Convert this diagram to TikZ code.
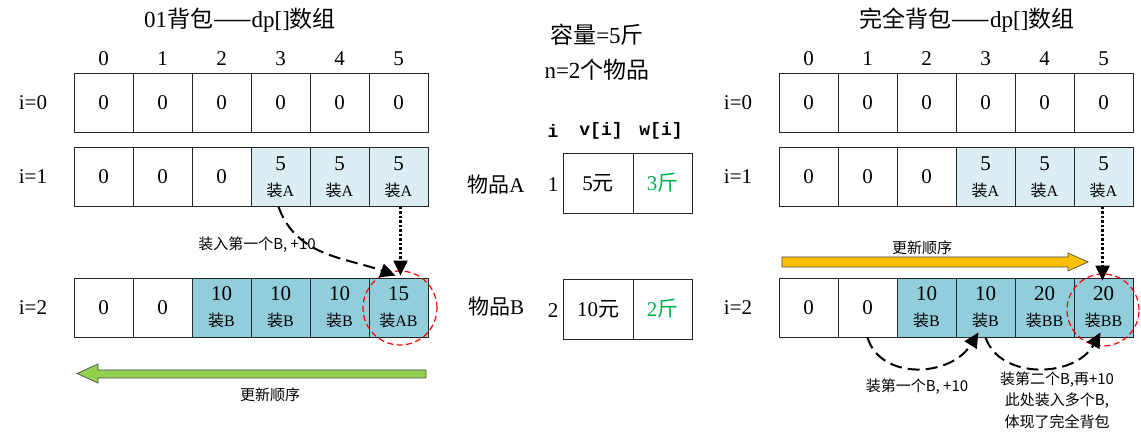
\documentclass[tikz,border=0pt]{standalone}
\usepackage{fontspec}
\setmainfont{Liberation Serif}
\newfontfamily\cjk{Noto Sans CJK SC}
\newfontfamily\monof{Liberation Mono}
\usetikzlibrary{arrows.meta}
\definecolor{lightcell}{HTML}{DAEEF3}
\definecolor{darkcell}{HTML}{92CDDC}
\definecolor{arrgreen}{HTML}{92D050}
\definecolor{arryellow}{HTML}{FFC000}
\definecolor{txtgreen}{HTML}{00B050}
\newcommand\tcell[2]{#1\\{\fontsize{16}{16}\selectfont{\cjk 装}#2}}
\tikzset{
  cell/.style={draw=black!85, line width=0.8pt, minimum width=59pt, minimum height=59pt,
    inner sep=0pt, align=center, font=\fontsize{21}{26}\selectfont},
  acell/.style={cell, fill=lightcell},
  bcell/.style={cell, fill=darkcell},
  lbl/.style={font=\fontsize{21}{21}\selectfont, inner sep=0pt},
  title/.style={font=\fontsize{23}{23}\selectfont, inner sep=0pt},
  note/.style={font=\fontsize{15}{21.5}\selectfont\cjk, inner sep=0pt, align=center},
  dasharr/.style={line width=2pt, dash pattern=on 12pt off 6pt, -{Triangle[length=15pt,width=14pt]}},
  dotarr/.style={line width=2.2pt, dash pattern=on 2.5pt off 2pt, -{Triangle[length=15pt,width=14pt]}},
  ring/.style={draw=red, line width=1.2pt, dash pattern=on 6pt off 3.5pt},
  fatarrow/.style={draw=black!70, line width=0.7pt},
}
\begin{document}
\begin{tikzpicture}[x=1pt,y=-1pt]
\useasboundingbox (0,0) rectangle (1141,435);

% ---------- titles ----------
\node[title] (tl) at (240,20) {01{\cjk 背包——}dp[]{\cjk 数组}};
\node[title] (tr) at (967,20) {{\cjk 完全背包——}dp[]{\cjk 数组}};

% ---------- left grid ----------
\foreach \k in {0,...,5} {
  \node[lbl] (Lh\k) at (103.5+59*\k,59) {\k};
  \node[cell] (L0-\k) at (103.5+59*\k,102.5) {0};
}
\node[cell] (L1-0) at (103.5,177) {0};
\node[cell] (L1-1) at (162.5,177) {0};
\node[cell] (L1-2) at (221.5,177) {0};
\node[acell] (L1-3) at (280.5,177) {\tcell{5}{A}};
\node[acell] (L1-4) at (339.5,177) {\tcell{5}{A}};
\node[acell] (L1-5) at (398.5,177) {\tcell{5}{A}};
\node[cell] (L2-0) at (103.5,307.5) {0};
\node[cell] (L2-1) at (162.5,307.5) {0};
\node[bcell] (L2-2) at (221.5,307.5) {\tcell{10}{B}};
\node[bcell] (L2-3) at (280.5,307.5) {\tcell{10}{B}};
\node[bcell] (L2-4) at (339.5,307.5) {\tcell{10}{B}};
\node[bcell] (L2-5) at (398.5,307.5) {\tcell{15}{AB}};
\node[lbl] (Li0) at (33,102.5) {i=0};
\node[lbl] (Li1) at (33,177) {i=1};
\node[lbl] (Li2) at (33,307.5) {i=2};

\node[ring, circle, minimum size=74pt, inner sep=0pt] (Lring) at (400,308) {};
\draw[dasharr] ([xshift=-2pt]L1-3.south) to[out=-70,in=160] ([xshift=-3pt,yshift=2pt]L2-5.north);
\draw[dotarr] ([xshift=2pt]L1-5.south) -- ([xshift=2pt,yshift=2pt]L2-5.north);
\node[note] (Lnote) at (257,245) {装入第一个B, +10};

\draw[fatarrow, fill=arrgreen] (426,370) -- (98,370) -- (98,364) -- (77,373.5) -- (98,383) -- (98,378) -- (426,378) -- cycle;
\node[note] (Lorder) at (270,395) {更新顺序};

% ---------- middle ----------
\node[title] (cap) at (597,35) {{\cjk 容量}=5{\cjk 斤}};
\node[title] (num) at (597,70) {n=2{\cjk 个物品}};
\node[font=\fontsize{18}{18}\selectfont\monof\bfseries, inner sep=0pt] (hi) at (553,131) {i};
\node[font=\fontsize{18}{18}\selectfont\monof\bfseries, inner sep=0pt] (hv) at (601,131) {v[i]};
\node[font=\fontsize{18}{18}\selectfont\monof\bfseries, inner sep=0pt] (hw) at (661,131) {w[i]};
\node[cell, minimum width=70pt, minimum height=60pt] (v1) at (598,183) {5{\cjk 元}};
\node[cell, minimum height=60pt, text=txtgreen] (w1) at (662.5,183) {3{\cjk 斤}};
\node[cell, minimum width=70pt, minimum height=60pt] (v2) at (598,309) {10{\cjk 元}};
\node[cell, minimum height=60pt, text=txtgreen] (w2) at (662.5,309) {2{\cjk 斤}};
\node[lbl] (itA) at (496,185) {{\cjk 物品}A};
\node[lbl] (itB) at (496,307) {{\cjk 物品}B};
\node[lbl] (n1) at (553,185) {1};
\node[lbl] (n2) at (553,311) {2};

% ---------- right grid ----------
\foreach \k in {0,...,5} {
  \node[lbl] (Rh\k) at (808.5+59*\k,59) {\k};
  \node[cell] (R0-\k) at (808.5+59*\k,102.5) {0};
}
\node[cell] (R1-0) at (808.5,177) {0};
\node[cell] (R1-1) at (867.5,177) {0};
\node[cell] (R1-2) at (926.5,177) {0};
\node[acell] (R1-3) at (985.5,177) {\tcell{5}{A}};
\node[acell] (R1-4) at (1044.5,177) {\tcell{5}{A}};
\node[acell] (R1-5) at (1103.5,177) {\tcell{5}{A}};
\node[cell] (R2-0) at (808.5,307.5) {0};
\node[cell] (R2-1) at (867.5,307.5) {0};
\node[bcell] (R2-2) at (926.5,307.5) {\tcell{10}{B}};
\node[bcell] (R2-3) at (985.5,307.5) {\tcell{10}{B}};
\node[bcell] (R2-4) at (1044.5,307.5) {\tcell{20}{BB}};
\node[bcell] (R2-5) at (1103.5,307.5) {\tcell{20}{BB}};
\node[lbl] (Ri0) at (738,102.5) {i=0};
\node[lbl] (Ri1) at (738,177) {i=1};
\node[lbl] (Ri2) at (738,307.5) {i=2};

\node[ring, circle, minimum size=72pt, inner sep=0pt] (Rring) at (1103,310) {};
\draw[dotarr] ([xshift=-1pt]R1-5.south) -- ([xshift=-1pt,yshift=-3pt]R2-5.north);

\draw[fatarrow, fill=arryellow] (782,257) -- (1068,257) -- (1068,253) -- (1088,262) -- (1068,271) -- (1068,267) -- (782,267) -- cycle;
\node[note] (Rorder) at (922,248) {更新顺序};

\draw[dasharr] (R2-1.south) .. controls (880,380) and (950,378) .. ([xshift=-7pt,yshift=5pt]R2-3.south);
\draw[dasharr] (R2-3.south) .. controls (1000,380) and (1075,378) .. ([xshift=-3pt,yshift=5pt]R2-5.south);
\node[note] (Rnote1) at (917,387) {装第一个B, +10};
\node[note] (Rnote2) at (1057,400) {装第二个B,再+10\\此处装入多个B,\\体现了完全背包};
\end{tikzpicture}
\end{document}
